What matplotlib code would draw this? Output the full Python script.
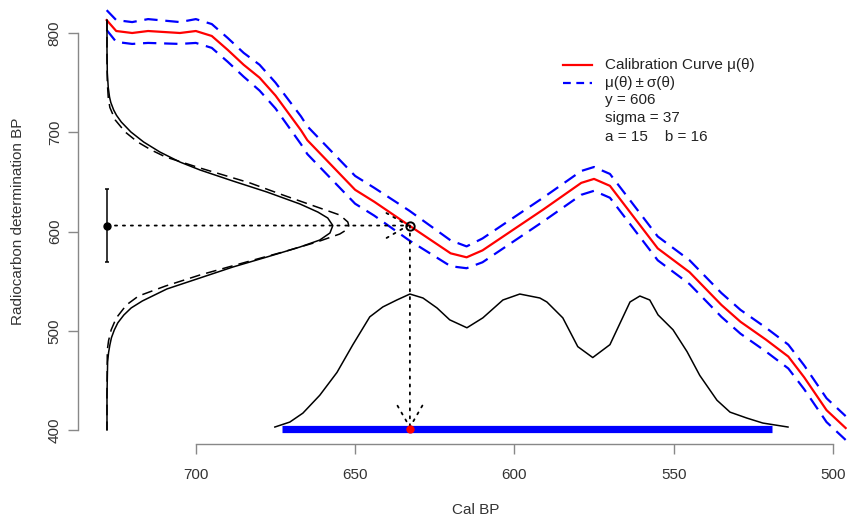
import matplotlib
matplotlib.use('Agg')
import matplotlib.pyplot as plt

plt.rcParams['font.family'] = ['Liberation Sans', 'DejaVu Sans']
plt.rcParams['font.size'] = 11

# calibration curve: cal BP, mean mu(theta), sd sigma(theta)
cal_bp = [728, 725, 720, 715, 705, 700, 695, 690, 685, 680, 675, 667, 665,
          650, 644, 633, 620, 615, 610, 591, 579, 575, 570, 565, 555, 550,
          545, 535, 529, 521, 514, 509, 502, 496]
cal_mu = [813, 802, 800, 802, 800, 802, 797, 783, 768, 755, 737, 702, 692,
          642, 630, 606, 578, 574, 581, 622, 649, 653, 646, 625, 583, 571,
          559, 526, 509, 491, 474, 453, 420, 402]
cal_sd = [10, 11, 11, 12, 11, 12, 12, 12, 12, 13, 13, 14, 14,
          14, 14, 15, 13, 11, 12, 12, 12, 12, 12, 12, 12, 12,
          12, 12, 12, 12, 12, 12, 12, 12]

# radiocarbon determination
y_obs = 606
sigma_obs = 37
a_par = 15
b_par = 16

# measurement density drawn sideways (solid: normal, dashed: t model)
normal_y = [813, 783, 760, 745, 735.5, 730, 722.4, 717, 710.3, 700.3, 690.2,
            680.1, 670.0, 662.0, 650.9, 639.8, 627.7, 619.6, 613.6, 606,
            598.5, 591.4, 584.4, 574.3, 564.2, 553.2, 542.1, 530.0, 523,
            515.9, 508, 500.8, 493, 485.6, 478, 468.5, 435.3, 400]
normal_x = [727.9, 727.9, 727.8, 727.5, 727.1, 726.7, 725.8, 724.9, 723.4,
            720.4, 716.4, 711.3, 705.0, 698.7, 688.4, 677.7, 667.3, 661.7,
            658.6, 657.0, 657.9, 661.1, 667.3, 677.7, 688.4, 698.7, 709.1,
            716.8, 720.3, 722.6, 724.5, 725.6, 726.5, 727.0, 727.4, 727.7,
            727.9, 727.9]
t_y = [813, 773, 750, 735, 725, 712.3, 700.3, 690.2, 682.1, 675.1, 664.0,
       648.9, 636.8, 624.7, 616.6, 609.6, 606, 602.5, 597.5, 589.4, 579.3,
       570.3, 556.2, 545.1, 535.0, 526.0, 512.8, 500.8, 490, 480.6, 435.3, 400]
t_x = [727.9, 727.9, 727.8, 727.5, 727.0, 725.3, 722.2, 718.3, 714.0, 709.5,
       698.7, 683.0, 672.7, 662.0, 654.8, 652.3, 652.0, 652.3, 654.8, 662.0,
       672.7, 683.0, 698.7, 709.5, 718.0, 721.8, 725.0, 726.6, 727.4, 727.8,
       727.9, 727.9]

# posterior of theta (scaled), drawn along the bottom
post_x = [675.2, 670.5, 666.4, 661.1, 655.7, 650.7, 645.4, 641.3, 636.9,
          632.8, 628.7, 624.3, 620.3, 614.9, 609.9, 603.6, 598.3, 592.0,
          589.8, 584.8, 580.1, 575.4, 570.0, 563.7, 560.6, 557.5, 554.9,
          550.2, 545.8, 541.8, 536.4, 532.3, 527.0, 522.0, 514.1]
post_y = [403, 408, 417, 435, 458, 486, 514, 524, 531, 537, 533, 523, 511,
          503, 513, 531, 537, 533, 529, 513, 484, 473, 486, 529, 535, 531,
          516, 501, 479, 455, 430, 418, 412, 407, 403]

theta_hat = 632.8
hpd = [673, 519]
base_y = 401
lik_x0 = 727.9

fig = plt.figure(figsize=(8.47, 5.18), dpi=100)
ax = fig.add_axes([78 / 847, 74 / 518, 796 / 847, 450.6 / 518])
ax.set_xlim(737.0, 487.1)
ax.set_ylim(385.9, 839.9)

# calibration curve with +- one sd
upper = [m + s for m, s in zip(cal_mu, cal_sd)]
lower = [m - s for m, s in zip(cal_mu, cal_sd)]
ax.plot(cal_bp, cal_mu, color='#ff0000', lw=1.6, zorder=3)
ax.plot(cal_bp, upper, color='#0000ff', lw=1.6, dashes=[6, 3.5], zorder=3)
ax.plot(cal_bp, lower, color='#0000ff', lw=1.6, dashes=[6, 3.5], zorder=3)

# density of the determination
ax.plot(normal_x, normal_y, color='black', lw=1.1, zorder=3)
ax.plot(t_x, t_y, color='black', lw=1.1, dashes=[7, 4], zorder=3)
ax.errorbar([lik_x0], [y_obs], yerr=[sigma_obs], fmt='o', color='black',
            ms=5, lw=1.1, capsize=1.2, capthick=1.1, zorder=4)

# posterior density and HPD interval
ax.plot(post_x, post_y, color='black', lw=1.1, zorder=3)
ax.plot(hpd, [base_y, base_y], color='#0000ff', lw=5.2,
        solid_capstyle='butt', zorder=3)

# arrows: determination -> curve -> cal age
arrow = dict(arrowstyle='->,head_length=1.56,head_width=0.9',
             linestyle=(0, (1.2, 3.2)), lw=1.3, color='black',
             shrinkA=0, shrinkB=0, mutation_scale=10)
ax.annotate('', xy=(theta_hat, y_obs), xytext=(lik_x0, y_obs),
            arrowprops=arrow, zorder=4)
ax.annotate('', xy=(theta_hat, base_y), xytext=(theta_hat, y_obs),
            arrowprops=arrow, zorder=4)
ax.plot([theta_hat], [y_obs], 'o', mfc='none', mec='black', ms=6, mew=1.4,
        zorder=5)
ax.plot([theta_hat], [base_y], 'o', color='#ff0000', ms=5, zorder=5)

# axes in R style
for side in ['top', 'right']:
    ax.spines[side].set_visible(False)
ax.spines['left'].set_bounds(400, 800)
ax.spines['bottom'].set_bounds(500, 700)
for side in ['left', 'bottom']:
    ax.spines[side].set_color('#888888')
    ax.spines[side].set_linewidth(1.0)
ax.set_xticks([700, 650, 600, 550, 500])
ax.set_yticks([400, 500, 600, 700, 800])
ax.tick_params(direction='out', length=7.2, width=1.0, color='#888888',
               labelcolor='#333333', labelsize=11)
ax.tick_params(axis='x', pad=10)
ax.tick_params(axis='y', pad=4.5, labelrotation=90)
for lab in ax.get_yticklabels():
    lab.set_va('center')

ax.set_xlabel('Cal BP', fontsize=11, color='#333333')
ax.set_ylabel('Radiocarbon determination BP', fontsize=11, color='#333333')
ax.xaxis.set_label_coords(0.5, -0.13)
ax.yaxis.set_label_coords(-0.066, 0.4938)

# legend block
legend_rows = ['Calibration Curve μ(θ)', 'μ(θ)\u2009±\u2009σ(θ)',
               'y = %d' % y_obs, 'sigma = %d' % sigma_obs,
               'a = %d    b = %d' % (a_par, b_par)]
row_y = [0.8411, 0.8012, 0.7634, 0.7235, 0.6813]
ax.plot([0.6093, 0.6457], [row_y[0]] * 2, color='#ff0000', lw=1.6,
        transform=ax.transAxes, clip_on=False)
ax.plot([0.6093, 0.6457], [row_y[1]] * 2, color='#0000ff', lw=1.6,
        dashes=[3.5, 2.5], transform=ax.transAxes, clip_on=False)
for txt, yy in zip(legend_rows, row_y):
    ax.text(0.6621, yy, txt, transform=ax.transAxes, ha='left', va='center',
            fontsize=11, color='#222222')

fig.savefig('out.png', dpi=100)
